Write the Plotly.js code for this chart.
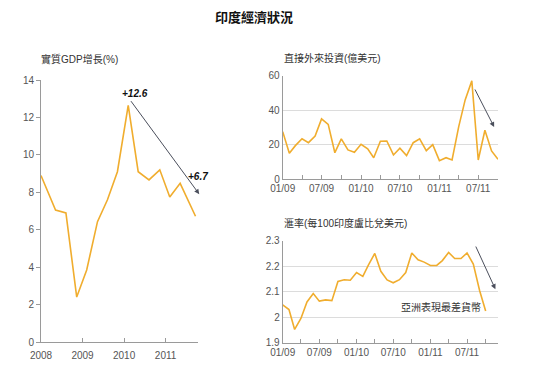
<!DOCTYPE html>
<html>
<head>
<meta charset="utf-8">
<script src="https://cdn.plot.ly/plotly-3.0.1.min.js"></script>
<style>html,body{margin:0;padding:0;background:#fff;}#chart{width:536px;height:380px;}</style>
</head>
<body>
<div id="chart"></div>
<script>
// GDP growth (%), positions in decimal years
const gdpX = [2008.0, 2008.35, 2008.6, 2008.86, 2009.1, 2009.36, 2009.6, 2009.84, 2010.1, 2010.34, 2010.6, 2010.86, 2011.1, 2011.35, 2011.72];
const gdpY = [8.9, 7.05, 6.9, 2.4, 3.85, 6.43, 7.6, 9.1, 12.65, 9.1, 8.66, 9.2, 7.75, 8.48, 6.72];

// Monthly series, 01/09 .. 10/11
const months = ["2009-01","2009-02","2009-03","2009-04","2009-05","2009-06","2009-07","2009-08","2009-09","2009-10","2009-11","2009-12",
                "2010-01","2010-02","2010-03","2010-04","2010-05","2010-06","2010-07","2010-08","2010-09","2010-10","2010-11","2010-12",
                "2011-01","2011-02","2011-03","2011-04","2011-05","2011-06","2011-07","2011-08","2011-09","2011-10"];
const fdi = [27.6, 15.1, 19.5, 23.5, 21.2, 25, 35, 31.8, 15.4, 23.4, 17, 15.6, 20.3, 17.6, 12.5, 22, 22.2, 14.1, 18, 13.7, 21.2, 23.4, 16.6, 20.1,
             10.8, 12.5, 11.2, 30.5, 46, 57, 11.2, 28.4, 16.4, 11.6];
const fx = [2.048, 2.03, 1.952, 1.995, 2.06, 2.093, 2.063, 2.068, 2.065, 2.14, 2.147, 2.145, 2.175, 2.16, 2.205, 2.25, 2.18, 2.146, 2.135, 2.147,
            2.175, 2.252, 2.225, 2.216, 2.203, 2.203, 2.222, 2.254, 2.23, 2.23, 2.252, 2.208, 2.105, 2.024];

const LINE = '#f0ad2e';
const FONT = 'Liberation Sans, Arial, Noto Sans CJK TC, sans-serif';
const CJK = 'Liberation Sans, Noto Sans CJK TC, sans-serif';
const TICKC = '#555';
const AXC = '#9a9a9a';

const traces = [
  {x: gdpX, y: gdpY, xaxis: 'x', yaxis: 'y', type: 'scatter', mode: 'lines', line: {color: LINE, width: 1.6}, hoverinfo: 'skip'},
  {x: months, y: fdi, xaxis: 'x2', yaxis: 'y2', type: 'scatter', mode: 'lines', line: {color: LINE, width: 1.6}, hoverinfo: 'skip'},
  {x: months, y: fx, xaxis: 'x3', yaxis: 'y3', type: 'scatter', mode: 'lines', line: {color: LINE, width: 1.6}, hoverinfo: 'skip'}
];

const tf = {family: FONT, size: 10, color: TICKC};

const layout = {
  width: 536, height: 380,
  margin: {l: 0, r: 0, t: 0, b: 0},
  paper_bgcolor: '#fff', plot_bgcolor: '#fff',
  showlegend: false,
  title: {text: '<b>印度經濟狀況</b>', x: 0.474, xanchor: 'center', y: 0.955, yanchor: 'middle',
          font: {family: 'Noto Sans CJK TC, sans-serif', size: 13, color: '#111'}},
  xaxis: {domain: [41/536, 198/536], anchor: 'y', range: [2008, 2011.78], tickvals: [2008, 2009, 2010, 2011],
          ticktext: ['2008', '2009', '2010', '2011'], ticks: 'inside', ticklen: 4, tickcolor: AXC, ticklabelstandoff: 4,
          showline: true, linecolor: AXC, linewidth: 1, showgrid: false, zeroline: false, tickfont: tf},
  yaxis: {domain: [1 - 342/380, 1 - 80/380], anchor: 'x', range: [0, 14], dtick: 2, ticks: 'outside', ticklen: 4,
          tickcolor: AXC, showline: true, linecolor: AXC, linewidth: 1, showgrid: false, zeroline: false, tickfont: tf},
  xaxis2: {domain: [282.7/536, 498/536], anchor: 'y2', type: 'date', range: ['2009-01-01', '2011-10-01'],
           tick0: '2009-01-01', dtick: 'M6', tickformat: '%m/%y', ticks: 'inside', ticklen: 4, tickcolor: AXC,
           minor: {dtick: 'M3', ticks: 'inside', ticklen: 4, tickcolor: AXC, showgrid: false},
           showline: true, linecolor: AXC, linewidth: 1, showgrid: false, zeroline: false, tickfont: tf},
  yaxis2: {domain: [1 - 179.3/380, 1 - 75.7/380], anchor: 'x2', range: [0, 60], dtick: 20, ticks: '', 
           showline: true, linecolor: AXC, linewidth: 1, showgrid: true, gridcolor: '#dcdcdc', gridwidth: 1,
           zeroline: false, tickfont: tf},
  xaxis3: {domain: [282.7/536, 498/536], anchor: 'y3', type: 'date', range: ['2009-01-01', '2011-12-01'],
           tick0: '2009-01-01', dtick: 'M6', tickformat: '%m/%y', ticks: 'inside', ticklen: 4, tickcolor: AXC,
           minor: {dtick: 'M3', ticks: 'inside', ticklen: 4, tickcolor: AXC, showgrid: false},
           showline: true, linecolor: AXC, linewidth: 1, showgrid: false, zeroline: false, tickfont: tf},
  yaxis3: {domain: [1 - 342.7/380, 1 - 240.7/380], anchor: 'x3', range: [1.9, 2.3], dtick: 0.1, ticks: '',
           tickvals: [1.9, 2.0, 2.1, 2.2, 2.3], ticktext: ['1.9', '2', '2.1', '2.2', '2.3'],
           showline: true, linecolor: AXC, linewidth: 1, showgrid: true, gridcolor: '#dcdcdc', gridwidth: 1,
           zeroline: false, tickfont: tf},
  annotations: [
    {xref: 'paper', yref: 'paper', x: 39/536, y: 1 - 59/380, xanchor: 'left', yanchor: 'middle', showarrow: false,
     text: '實質GDP增長(%)', font: {family: CJK, size: 10, color: '#333'}},
    {xref: 'paper', yref: 'paper', x: 281.5/536, y: 1 - 58.5/380, xanchor: 'left', yanchor: 'middle', showarrow: false,
     text: '直接外來投資(億美元)', font: {family: CJK, size: 10, color: '#333'}},
    {xref: 'paper', yref: 'paper', x: 282/536, y: 1 - 222.5/380, xanchor: 'left', yanchor: 'middle', showarrow: false,
     text: '滙率(每100印度盧比兌美元)', font: {family: CJK, size: 10, color: '#333'}},
    {xref: 'paper', yref: 'paper', x: 441/536, y: 1 - 307/380, xanchor: 'center', yanchor: 'middle', showarrow: false,
     text: '亞洲表現最差貨幣', font: {family: CJK, size: 10, color: '#333'}},
    // GDP annotations
    {xref: 'x', yref: 'y', x: 2010.27, y: 13.3, showarrow: false, text: '<b><i>+12.6</i></b>',
     font: {family: FONT, size: 10, color: '#111'}},
    {xref: 'x', yref: 'y', x: 2011.78, y: 8.82, showarrow: false, text: '<b><i>+6.7</i></b>',
     font: {family: FONT, size: 10, color: '#111'}},
    {xref: 'x', yref: 'y', x: 2011.81, y: 7.9, axref: 'x', ayref: 'y', ax: 2010.14, ay: 12.95, text: '',
     showarrow: true, arrowhead: 2, arrowsize: 1, arrowwidth: 1, arrowcolor: '#4b4f5c'},
    {xref: 'x2', yref: 'y2', x: '2011-09-13', y: 30.3, axref: 'x2', ayref: 'y2', ax: '2011-06-12', ay: 52.9, text: '',
     showarrow: true, arrowhead: 2, arrowsize: 1, arrowwidth: 1, arrowcolor: '#4b4f5c'},
    {xref: 'x3', yref: 'y3', x: '2011-11-18', y: 2.11, axref: 'x3', ayref: 'y3', ax: '2011-08-10', ay: 2.283, text: '',
     showarrow: true, arrowhead: 2, arrowsize: 1, arrowwidth: 1, arrowcolor: '#4b4f5c'}
  ]
};

Plotly.newPlot('chart', traces, layout, {staticPlot: true, displayModeBar: false});
</script>
</body>
</html>
